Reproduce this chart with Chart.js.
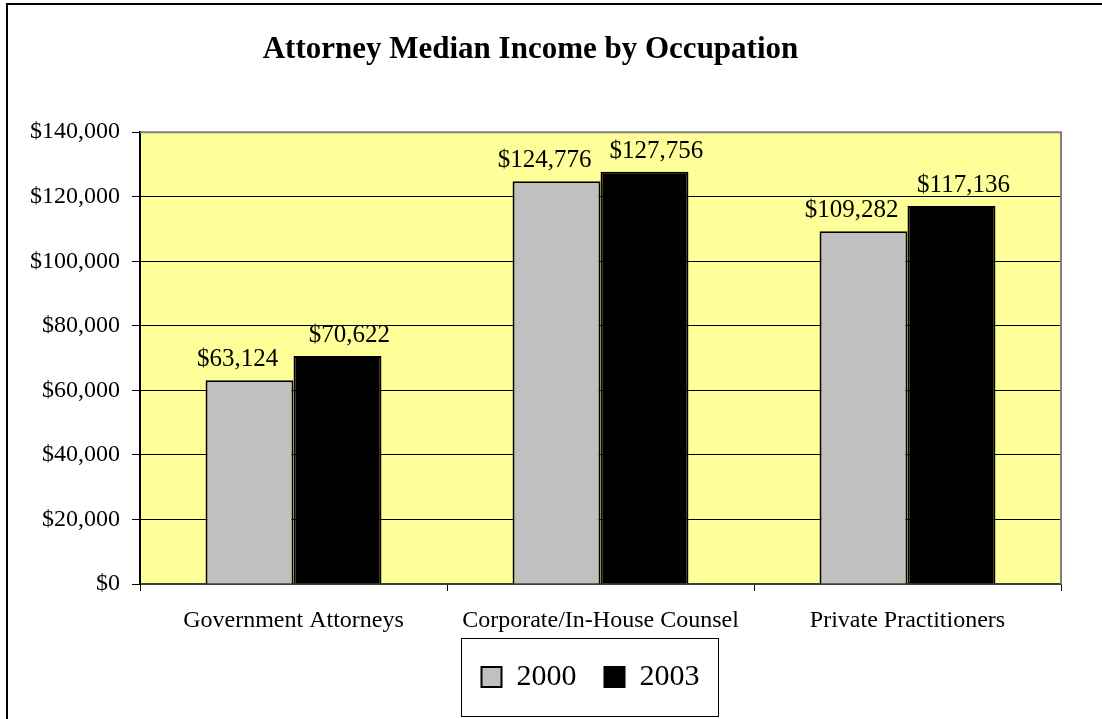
<!DOCTYPE html>
<html>
<head>
<meta charset="utf-8">
<script src="https://cdn.jsdelivr.net/npm/chart.js@4.4.1/dist/chart.umd.min.js"></script>
<style>
  html, body { margin: 0; padding: 0; background: #ffffff; }
  #wrap { width: 1102px; height: 719px; position: relative; }
</style>
</head>
<body>
<div id="wrap"><canvas id="c" width="1102" height="719"></canvas></div>
<script>
const titleText = 'Attorney Median Income by Occupation';
const categories = ['Government Attorneys', 'Corporate/In-House Counsel', 'Private Practitioners'];
const seriesNames = ['2000', '2003'];
const values2000 = [63124, 124776, 109282];
const values2003 = [70622, 127756, 117136];
const yTicks = [0, 20000, 40000, 60000, 80000, 100000, 120000, 140000];

const SERIF = "'Liberation Serif', 'Times New Roman', Times, serif";
const fmt = v => '$' + v.toLocaleString('en-US');

const framePlugin = {
  id: 'frame',
  beforeDraw(chart) {
    const ctx = chart.ctx;
    ctx.save();
    ctx.fillStyle = '#ffffff';
    ctx.fillRect(0, 0, chart.width, chart.height);
    ctx.strokeStyle = '#000000';
    ctx.lineWidth = 2;
    ctx.beginPath();
    ctx.moveTo(7, chart.height);
    ctx.lineTo(7, 4);
    ctx.lineTo(chart.width, 4);
    ctx.stroke();
    const a = chart.chartArea;
    ctx.fillStyle = '#FFFF99';
    ctx.fillRect(a.left, a.top, a.right - a.left, a.bottom - a.top);
    ctx.restore();
  },
  afterDatasetsDraw(chart) {
    const ctx = chart.ctx;
    const a = chart.chartArea;
    ctx.save();
    ctx.strokeStyle = '#808080';
    ctx.lineWidth = 2;
    ctx.beginPath();
    ctx.moveTo(a.left, a.top);
    ctx.lineTo(a.right, a.top);
    ctx.lineTo(a.right, a.bottom);
    ctx.stroke();
    // data labels
    ctx.fillStyle = '#000000';
    ctx.font = '25px ' + SERIF;
    ctx.textAlign = 'center';
    ctx.textBaseline = 'alphabetic';
    chart.data.datasets.forEach((ds, di) => {
      const meta = chart.getDatasetMeta(di);
      const dx = di === 0 ? -12 : 12;
      meta.data.forEach((el, i) => {
        ctx.fillText(fmt(ds.data[i]), el.x + dx, el.y - 14);
      });
    });
    // legend border
    const lg = chart.legend;
    if (lg && lg.legendHitBoxes && lg.legendHitBoxes.length) {
      const hb = lg.legendHitBoxes;
      const l = hb[0].left - 21;
      const r = hb[hb.length - 1].left + hb[hb.length - 1].width + 18;
      const cy = hb[0].top + hb[0].height / 2;
      ctx.strokeStyle = '#000000';
      ctx.lineWidth = 1;
      ctx.strokeRect(Math.round(l) + 0.5, Math.round(cy - 39) + 0.5, Math.round(r - l), 78);
    }
    ctx.restore();
  },
  afterLayout(chart) {
    const lg = chart.legend;
    if (lg) { lg.left -= 10; lg.right -= 10; }
  }
};

new Chart(document.getElementById('c'), {
  type: 'bar',
  data: {
    labels: categories,
    datasets: [
      { label: seriesNames[0], data: values2000, backgroundColor: '#C0C0C0', borderColor: '#000000', borderWidth: 2 },
      { label: seriesNames[1], data: values2003, backgroundColor: '#000000', borderColor: '#000000', borderWidth: 2 }
    ]
  },
  options: {
    responsive: false,
    animation: false,
    devicePixelRatio: 1,
    layout: { padding: { left: 0, right: 41, top: 0, bottom: 17 } },
    datasets: { bar: { categoryPercentage: 0.573, barPercentage: 1.0 } },
    plugins: {
      title: {
        display: true,
        text: titleText,
        color: '#000000',
        font: { family: SERIF, size: 31, weight: 'bold' },
        padding: { top: 31, bottom: 64 }
      },
      legend: {
        display: true,
        position: 'bottom',
        fullSize: false,
        labels: {
          color: '#000000',
          font: { family: SERIF, size: 30 },
          boxWidth: 20,
          boxHeight: 20,
          padding: 28
        }
      },
      tooltip: { enabled: false }
    },
    scales: {
      x: {
        grid: { display: true, drawOnChartArea: false, drawTicks: true, tickLength: 7, color: '#000000', offset: true },
        border: { display: true, color: '#404040', width: 2 },
        ticks: { color: '#000000', font: { family: SERIF, size: 24 }, padding: 15, maxRotation: 0 },
        afterFit(s) { s.height = 50; }
      },
      y: {
        min: 0,
        max: 140000,
        afterBuildTicks(s) { s.ticks = yTicks.map(v => ({ value: v })); },
        grid: { display: true, color: '#000000', lineWidth: 1, tickLength: 8, drawTicks: true },
        border: { display: true, color: '#000000', width: 2 },
        ticks: { color: '#000000', font: { family: SERIF, size: 24 }, padding: 12, callback: v => fmt(v) },
        afterFit(s) { s.width = 140; }
      }
    }
  },
  plugins: [framePlugin]
});
</script>
</body>
</html>
